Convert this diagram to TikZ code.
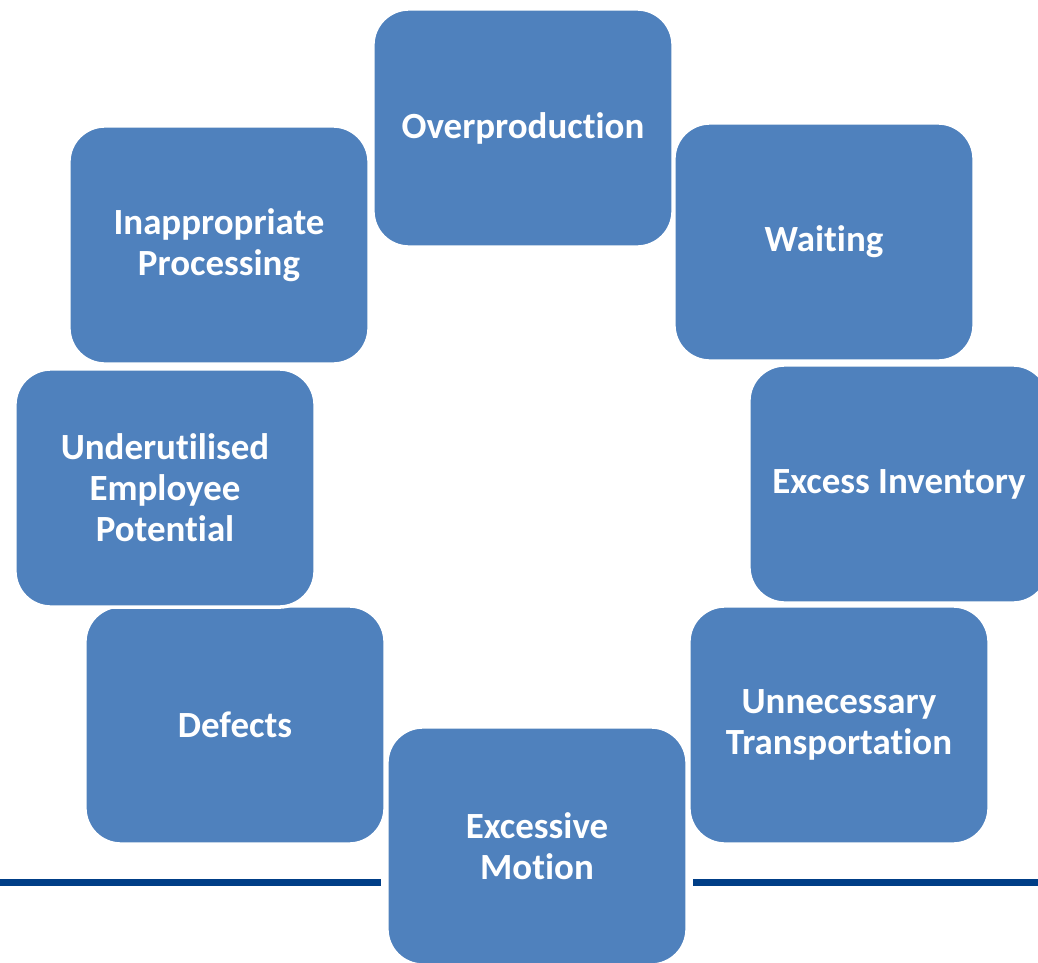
\documentclass[tikz,border=0pt]{standalone}
\usepackage{fontspec}
\setmainfont{Carlito}[RawFeature={-liga;-clig;-dlig;-calt}]
\usepackage{tikz}
\definecolor{wasteblue}{RGB}{79,129,189}
\definecolor{rulenavy}{RGB}{0,62,135}

\begin{document}
\begin{tikzpicture}[x=0.01cm,y=-0.01cm,
  waste/.style={draw=white,line width=1pt,fill=wasteblue,rounded corners=0.36cm,
    minimum width=3cm,minimum height=2.38cm,align=center,text=white,
    font=\fontsize{10.5}{11.7}\selectfont\bfseries},
  rule/.style={rulenavy,line width=2pt}]
  \useasboundingbox (0,0) rectangle (1038,963);
  % the eight wastes, clockwise from the top
  \foreach \x/\y/\name/\txt in {
      523/128/overprod/Overproduction,
      824/242/waiting/Waiting,
      899/484/inventory/Excess Inventory,
      839/725/transport/{Unnecessary\\Transportation},
      235/725/defects/Defects,
      165/488/people/{Underutilised\\Employee\\Potential},
      219/245/processing/{Inappropriate\\Processing}}{
    \node[waste] (\name) at (\x,\y) {\txt};
  }
  % bottom rule, broken by the motion box
  \coordinate (rule-l) at (0,882.5);
  \coordinate (rule-r) at (1038,882.5);
  \node[waste] (motion) at (537,846) {Excessive\\Motion};
  \draw[rule,shorten >=1.2pt] (rule-l) -- (motion.west |- rule-l);
  \draw[rule,shorten >=1.2pt] (rule-r) -- (motion.east |- rule-r);
\end{tikzpicture}
\end{document}
